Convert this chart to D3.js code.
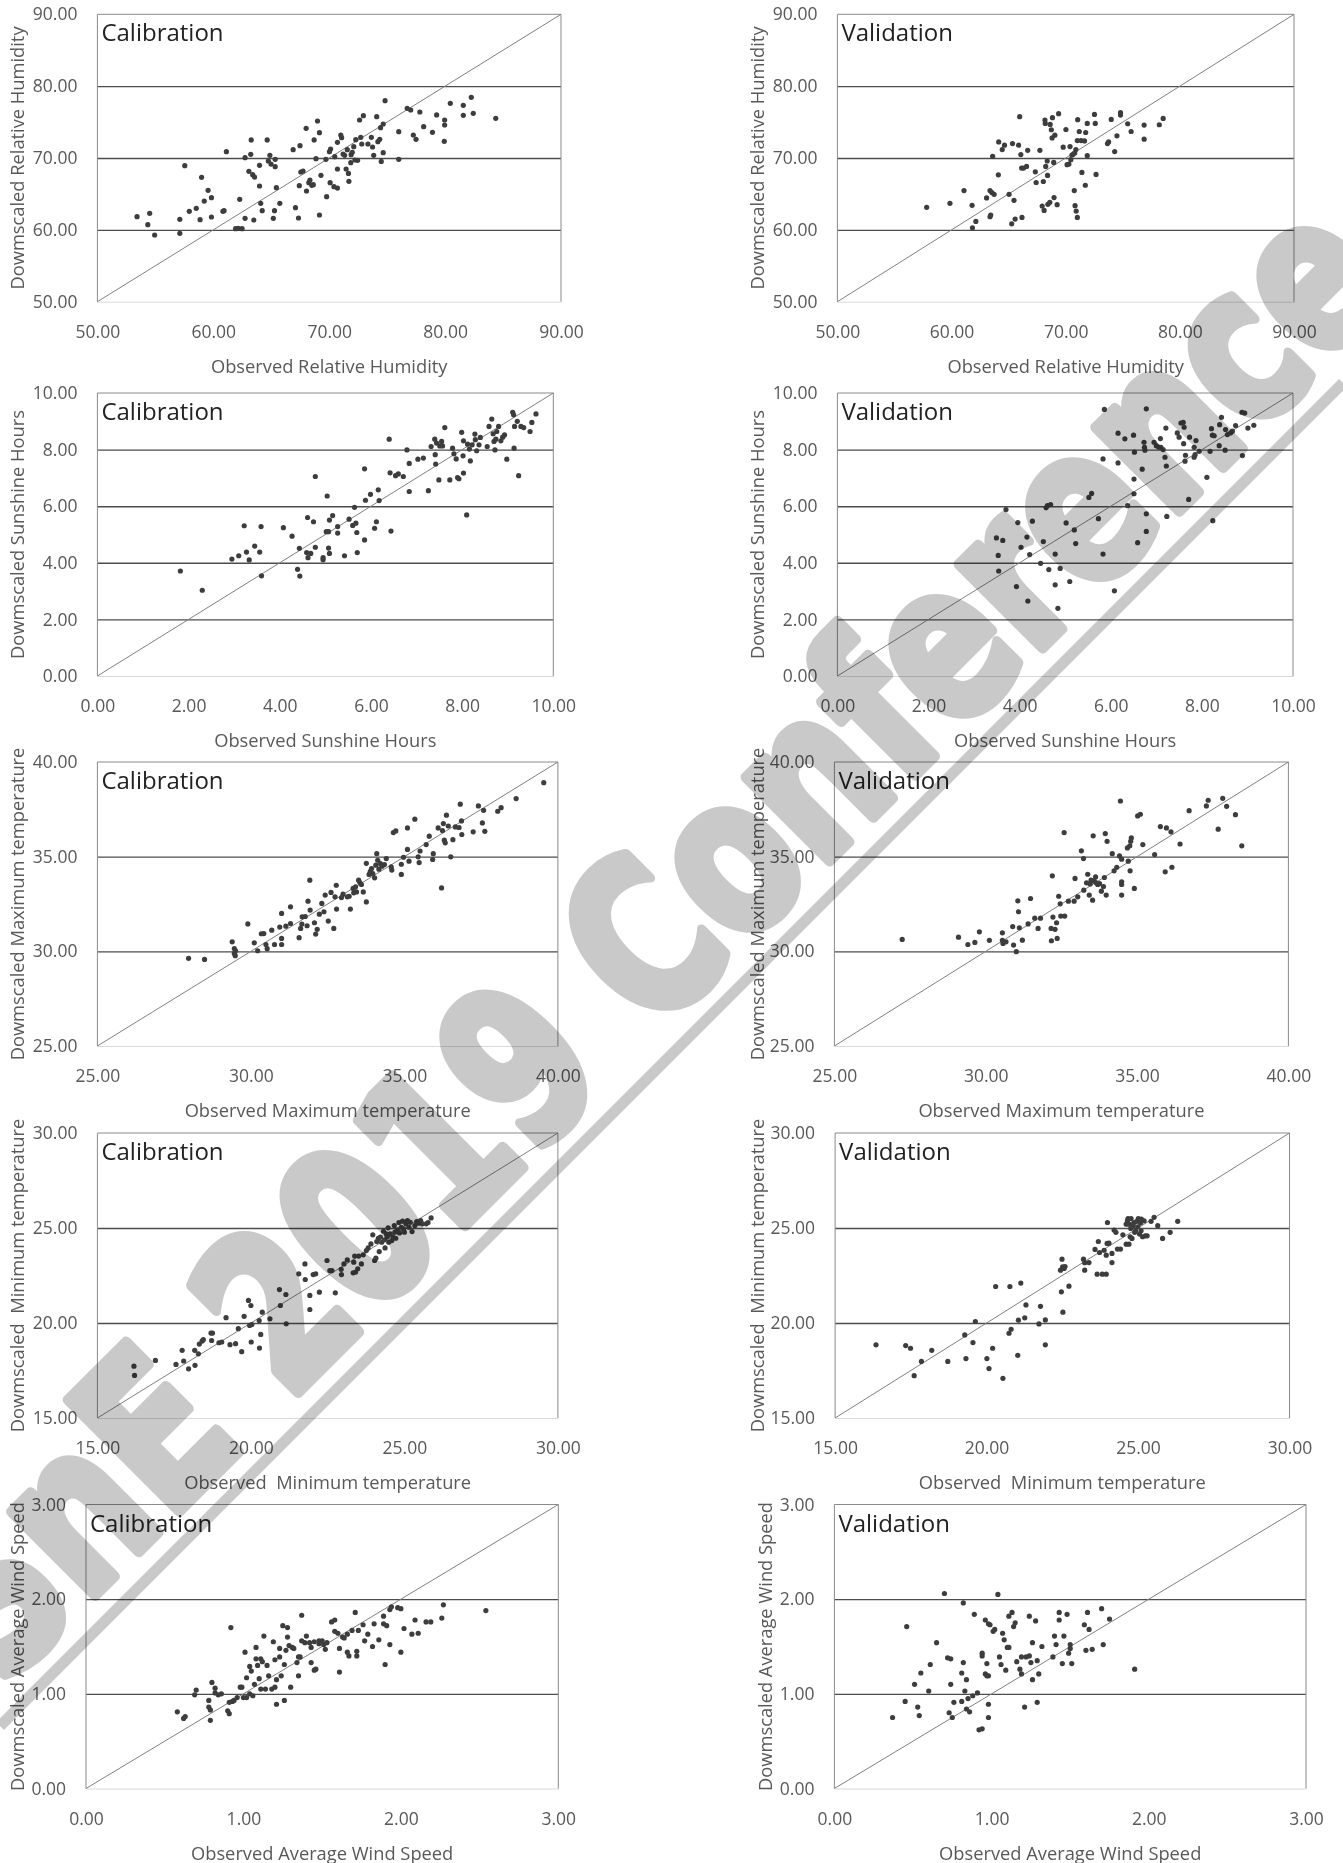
<!DOCTYPE html>
<html>
<head>
<meta charset="utf-8">
<script src="https://cdn.jsdelivr.net/npm/d3@7"></script>
<style>
  body { margin: 0; background: #fff; }
  text { font-family: "Open Sans", "Noto Sans", sans-serif; }
</style>
</head>
<body>
<svg id="chart" width="1343" height="1863"></svg>
<script>
// ---- data: [observed, downscaled] pairs ----
const rhCal = [[53.42,61.83],[54.35,60.72],[54.51,62.3],[54.94,59.28],[57.11,61.46],[57.11,59.51],[57.54,68.93],[57.93,62.58],[58.53,63.0],[58.86,61.41],[58.99,67.31],[59.22,64.0],[59.55,65.5],[59.84,64.48],[59.84,61.79],[60.83,62.58],[60.93,62.67],[61.13,70.88],[62.28,64.25],[61.92,60.16],[62.15,60.21],[62.48,60.16],[62.74,70.05],[62.74,61.6],[63.07,68.14],[63.23,70.51],[63.27,72.51],[63.4,67.68],[63.56,67.35],[63.5,61.37],[63.99,68.98],[63.99,66.1],[64.09,63.69],[64.22,62.67],[64.65,72.51],[64.75,69.58],[64.88,70.37],[64.98,69.16],[65.18,61.6],[65.28,62.67],[65.34,69.81],[65.34,68.79],[65.44,65.87],[65.74,63.69],[66.89,71.16],[67.09,63.09],[67.35,61.65],[67.42,66.15],[67.48,71.72],[67.55,68.05],[67.74,68.19],[68.01,74.13],[68.04,65.41],[68.24,66.57],[68.34,66.94],[68.5,66.19],[68.63,66.29],[68.7,72.51],[68.86,69.91],[68.99,75.15],[69.16,73.53],[69.16,62.07],[69.29,67.59],[69.78,64.62],[69.72,69.81],[70.02,70.88],[70.08,66.57],[70.12,71.25],[70.41,66.01],[70.48,70.19],[70.71,65.82],[70.71,68.47],[70.71,72.18],[71.0,73.2],[71.07,72.83],[71.2,70.56],[71.33,70.37],[71.46,68.47],[71.56,71.16],[71.66,67.86],[71.7,66.75],[71.86,69.35],[71.89,70.46],[71.99,70.79],[72.12,71.58],[72.22,69.72],[72.29,72.55],[72.45,69.67],[72.62,75.29],[72.72,72.88],[72.81,71.95],[72.95,75.89],[73.34,71.95],[73.64,72.88],[73.74,71.53],[73.84,70.37],[74.1,75.75],[74.2,72.27],[74.36,72.6],[74.43,74.22],[74.49,69.53],[74.66,70.74],[74.66,74.73],[74.82,77.98],[76.0,73.67],[76.0,69.81],[76.73,76.91],[77.03,76.68],[77.26,73.2],[77.49,72.6],[77.82,76.4],[78.15,74.36],[78.91,73.57],[79.27,75.99],[79.96,75.29],[79.96,74.59],[79.93,72.32],[80.45,77.61],[81.57,77.33],[81.57,75.94],[82.26,78.45],[82.43,76.22],[84.37,75.52]];

const rhVal = [[57.82,63.13],[59.86,63.69],[61.09,65.47],[61.8,63.41],[61.83,60.28],[62.13,61.17],[63.07,64.44],[63.37,65.47],[63.37,61.82],[63.43,62.06],[63.53,65.19],[63.6,70.23],[63.73,64.95],[64.1,67.66],[64.13,72.24],[64.44,71.17],[64.64,71.78],[65.04,64.95],[65.27,60.84],[65.34,72.01],[65.47,64.11],[65.57,61.5],[65.87,71.78],[65.97,75.75],[66.07,70.47],[66.14,68.6],[66.17,61.73],[66.31,68.6],[66.57,68.83],[66.67,71.07],[67.34,68.08],[67.41,66.59],[67.74,71.07],[67.94,63.32],[68.04,66.73],[68.11,62.71],[68.18,75.28],[68.21,74.81],[68.25,68.83],[68.38,69.58],[68.41,67.57],[68.44,63.55],[68.61,63.83],[68.64,74.67],[68.74,73.93],[68.81,72.8],[68.84,75.61],[68.95,69.39],[68.98,64.49],[69.05,73.18],[69.25,63.5],[69.38,76.17],[69.78,71.5],[70.02,73.97],[70.12,69.07],[70.28,69.16],[70.38,71.59],[70.45,69.77],[70.55,70.42],[70.65,70.51],[70.75,65.47],[70.79,70.7],[70.82,63.36],[70.89,71.17],[70.92,62.62],[71.02,61.73],[71.02,72.43],[71.05,75.33],[71.19,73.69],[71.35,72.43],[71.42,67.99],[71.65,72.38],[71.72,66.21],[71.75,73.55],[71.89,74.81],[71.89,70.33],[72.52,76.07],[72.59,74.81],[72.66,67.71],[73.66,72.01],[73.76,72.24],[73.99,75.37],[74.29,70.89],[74.49,73.08],[74.8,75.98],[74.8,76.31],[75.43,74.77],[75.73,73.69],[76.87,74.58],[76.87,72.62],[78.2,74.63],[78.54,75.51]];

const sunCal = [[1.82,3.71],[2.3,3.03],[2.95,4.13],[3.1,4.25],[3.22,5.31],[3.27,4.38],[3.33,4.1],[3.45,4.59],[3.56,4.38],[3.59,5.28],[3.6,3.54],[4.08,5.24],[4.27,4.94],[4.39,3.77],[4.43,4.51],[4.44,3.53],[4.59,4.36],[4.61,5.6],[4.62,4.18],[4.68,4.33],[4.74,5.45],[4.78,7.05],[4.78,4.55],[4.95,4.11],[4.95,4.18],[5.02,5.1],[5.04,6.36],[5.07,5.1],[5.07,4.52],[5.09,4.33],[5.09,5.51],[5.16,5.67],[5.27,5.28],[5.27,5.05],[5.42,4.25],[5.52,5.54],[5.6,5.32],[5.64,5.96],[5.67,5.4],[5.69,5.07],[5.7,4.36],[5.86,4.81],[5.86,7.32],[5.88,6.21],[5.99,6.42],[6.08,5.22],[6.12,5.45],[6.16,6.58],[6.18,6.2],[6.4,8.37],[6.42,7.18],[6.44,5.12],[6.54,7.08],[6.6,7.14],[6.71,7.05],[6.79,7.99],[6.84,7.51],[6.84,6.52],[7.03,7.66],[7.15,7.7],[7.26,6.55],[7.32,8.11],[7.4,8.37],[7.41,7.82],[7.42,7.49],[7.44,8.23],[7.49,6.93],[7.51,8.13],[7.55,8.29],[7.57,8.13],[7.62,8.78],[7.73,6.93],[7.79,8.05],[7.82,7.85],[7.87,7.67],[7.9,7.01],[7.93,6.97],[7.99,8.61],[8.02,7.78],[8.03,7.17],[8.03,8.31],[8.1,5.69],[8.12,8.19],[8.16,8.02],[8.18,7.6],[8.22,8.17],[8.28,8.55],[8.29,8.35],[8.32,7.96],[8.37,8.17],[8.4,8.43],[8.55,8.11],[8.59,8.82],[8.65,9.08],[8.68,8.56],[8.7,8.29],[8.72,7.99],[8.74,8.37],[8.76,8.64],[8.8,8.82],[8.85,8.31],[8.89,8.44],[8.93,8.52],[8.98,7.66],[9.11,9.32],[9.13,9.23],[9.14,8.05],[9.15,8.82],[9.21,9.0],[9.24,7.08],[9.29,8.82],[9.35,8.78],[9.49,8.64],[9.53,8.96],[9.62,9.26]];

const sunVal = [[3.49,4.88],[3.53,4.26],[3.54,3.71],[3.63,4.79],[3.7,5.88],[3.93,3.16],[3.96,5.42],[4.03,4.55],[4.16,4.91],[4.18,2.65],[4.22,4.29],[4.28,5.47],[4.46,3.98],[4.52,4.75],[4.58,5.94],[4.61,6.02],[4.64,3.76],[4.68,6.06],[4.78,4.31],[4.78,3.22],[4.84,2.39],[4.89,3.8],[5.02,5.41],[5.1,3.34],[5.2,5.16],[5.23,4.68],[5.52,6.31],[5.58,6.45],[5.73,5.56],[5.83,4.31],[5.83,7.67],[5.86,9.42],[6.08,3.01],[6.16,7.53],[6.16,8.58],[6.31,8.38],[6.37,6.02],[6.5,8.51],[6.51,6.96],[6.51,6.44],[6.52,7.91],[6.59,4.71],[6.69,7.31],[6.73,8.26],[6.74,8.08],[6.75,7.98],[6.78,9.44],[6.78,5.73],[6.78,5.11],[6.95,8.26],[7.0,8.14],[7.05,8.09],[7.09,8.39],[7.1,8.08],[7.15,8.0],[7.19,7.73],[7.21,8.76],[7.22,7.42],[7.23,5.64],[7.46,8.59],[7.5,8.44],[7.54,8.94],[7.59,8.96],[7.6,8.21],[7.61,8.79],[7.63,7.59],[7.64,7.8],[7.71,6.24],[7.73,8.44],[7.83,8.08],[7.83,7.73],[7.85,7.82],[7.87,8.32],[7.94,7.94],[8.11,7.02],[8.18,7.94],[8.21,8.74],[8.23,8.51],[8.24,5.49],[8.27,8.49],[8.38,8.14],[8.39,8.88],[8.43,9.14],[8.51,7.98],[8.52,8.71],[8.56,8.53],[8.63,8.59],[8.67,8.65],[8.74,8.85],[8.88,9.32],[8.89,7.79],[8.94,9.29],[9.01,8.76],[9.14,8.86]];

const tmaxCal = [[27.97,29.63],[28.49,29.57],[29.39,30.5],[29.46,30.15],[29.46,29.89],[29.5,30.03],[29.49,29.77],[29.9,31.45],[30.11,30.45],[30.22,30.03],[30.34,30.93],[30.42,30.94],[30.49,30.36],[30.53,30.14],[30.68,31.12],[30.77,30.36],[30.94,31.28],[31.0,30.36],[31.0,30.68],[31.0,32.0],[31.14,31.33],[31.29,32.35],[31.29,31.47],[31.57,30.72],[31.62,31.21],[31.66,31.44],[31.67,31.82],[31.77,31.84],[31.83,31.35],[31.86,32.65],[31.92,33.76],[31.93,32.18],[32.07,31.51],[32.11,30.91],[32.16,31.16],[32.23,31.96],[32.31,32.53],[32.38,32.09],[32.42,32.97],[32.52,31.6],[32.61,33.11],[32.7,31.21],[32.74,32.88],[32.78,33.49],[32.79,32.23],[32.95,32.84],[33.0,33.02],[33.14,32.88],[33.2,32.91],[33.24,32.23],[33.33,33.32],[33.35,33.09],[33.41,33.41],[33.44,33.14],[33.51,33.76],[33.55,33.63],[33.6,33.53],[33.66,33.14],[33.76,34.65],[33.76,32.61],[33.85,34.06],[33.89,34.23],[33.93,34.37],[33.97,34.11],[34.03,33.88],[34.07,34.55],[34.1,35.16],[34.13,34.81],[34.17,34.34],[34.22,34.64],[34.27,34.5],[34.35,34.58],[34.41,34.9],[34.57,34.46],[34.59,34.29],[34.64,36.27],[34.72,36.36],[34.9,34.06],[34.9,34.6],[34.97,34.97],[35.1,36.52],[35.1,35.38],[35.15,34.76],[35.34,36.98],[35.45,34.99],[35.48,34.69],[35.51,35.3],[35.71,35.64],[35.81,36.08],[35.92,34.85],[35.94,35.16],[36.1,36.52],[36.21,33.35],[36.24,36.38],[36.27,36.75],[36.3,35.87],[36.33,35.73],[36.37,37.19],[36.43,36.62],[36.51,34.99],[36.58,35.9],[36.66,36.57],[36.78,36.54],[36.82,37.77],[36.86,36.89],[36.87,36.17],[37.24,36.31],[37.41,37.68],[37.54,36.78],[37.58,37.45],[37.62,36.34],[38.04,37.4],[38.15,37.59],[38.64,38.07],[39.54,38.91]];

const tmaxVal = [[27.24,30.63],[29.1,30.75],[29.41,30.36],[29.64,30.47],[29.79,31.03],[30.12,30.58],[30.55,30.98],[30.55,30.58],[30.57,30.42],[30.67,30.5],[30.89,31.31],[30.92,30.33],[31.01,29.98],[31.06,32.67],[31.08,32.09],[31.11,31.24],[31.21,30.59],[31.4,31.45],[31.48,32.79],[31.62,31.75],[31.73,31.21],[31.81,31.75],[32.16,31.21],[32.17,30.56],[32.2,33.99],[32.22,31.81],[32.29,31.16],[32.34,31.51],[32.36,30.68],[32.41,32.91],[32.46,32.51],[32.48,31.86],[32.59,36.27],[32.61,31.86],[32.73,32.65],[32.92,32.65],[32.95,33.85],[33.04,32.88],[33.16,35.31],[33.23,34.9],[33.24,33.23],[33.33,33.62],[33.37,34.07],[33.42,32.97],[33.45,33.56],[33.48,33.76],[33.53,32.7],[33.55,36.1],[33.58,33.72],[33.63,33.93],[33.65,33.62],[33.7,33.53],[33.76,33.58],[33.82,33.18],[33.89,33.42],[33.92,33.9],[33.95,36.22],[33.98,32.97],[34.01,35.81],[34.18,35.16],[34.24,34.25],[34.33,34.44],[34.42,35.04],[34.45,37.94],[34.49,34.87],[34.49,33.67],[34.49,33.53],[34.49,32.97],[34.68,35.46],[34.71,34.76],[34.76,35.57],[34.77,34.25],[34.79,35.81],[34.81,35.99],[34.91,33.32],[35.02,37.15],[35.11,37.24],[35.19,35.64],[35.58,35.11],[35.77,36.59],[35.93,34.2],[35.97,36.52],[36.12,36.31],[36.15,34.44],[36.42,35.67],[36.72,37.43],[37.29,37.68],[37.35,37.98],[37.68,36.45],[37.83,38.08],[37.96,37.66],[38.25,37.22],[38.46,35.57]];

const tminCal = [[16.19,17.73],[16.21,17.24],[16.89,18.03],[17.56,17.82],[17.76,18.56],[17.81,18.0],[17.97,17.59],[18.18,17.77],[18.17,18.56],[18.29,18.38],[18.32,18.89],[18.41,19.05],[18.45,19.12],[18.7,19.47],[18.72,19.08],[18.75,19.47],[18.96,18.96],[19.05,19.0],[19.19,20.28],[19.32,18.86],[19.5,18.91],[19.59,19.7],[19.7,18.49],[19.78,20.35],[19.92,21.19],[19.96,19.87],[20.0,20.92],[20.01,19.0],[20.03,19.92],[20.27,20.13],[20.28,18.68],[20.32,19.4],[20.37,20.57],[20.62,20.22],[20.93,21.76],[20.96,20.92],[21.14,21.5],[21.15,19.96],[21.56,22.59],[21.76,23.11],[21.77,22.29],[21.92,21.45],[21.92,20.71],[22.03,22.55],[22.11,22.59],[22.23,21.62],[22.48,23.29],[22.57,22.76],[22.64,22.76],[22.75,21.59],[22.94,22.82],[22.95,22.55],[23.03,23.11],[23.14,23.32],[23.33,22.64],[23.35,23.2],[23.38,23.52],[23.41,22.68],[23.48,22.85],[23.51,23.52],[23.6,23.11],[23.66,23.59],[23.76,23.81],[23.82,23.95],[23.91,24.16],[23.97,24.64],[24.03,23.29],[24.07,23.41],[24.1,24.29],[24.15,24.45],[24.18,23.76],[24.22,24.52],[24.26,24.25],[24.32,24.83],[24.35,24.38],[24.37,23.95],[24.41,24.69],[24.44,24.52],[24.47,25.01],[24.49,24.25],[24.54,24.69],[24.59,24.34],[24.63,24.52],[24.67,25.13],[24.69,24.78],[24.72,24.46],[24.77,24.9],[24.82,25.29],[24.84,24.74],[24.9,25.04],[24.94,25.36],[24.97,24.95],[25.0,24.78],[25.05,25.22],[25.1,25.39],[25.15,25.04],[25.19,25.3],[25.25,24.81],[25.34,25.13],[25.4,25.34],[25.46,25.25],[25.53,25.39],[25.59,25.22],[25.71,25.22],[25.77,25.29],[25.87,25.53]];

const tminVal = [[16.35,18.85],[17.33,18.81],[17.49,18.67],[17.61,17.23],[17.85,17.98],[18.19,18.56],[18.72,17.98],[19.28,19.37],[19.32,18.13],[19.55,18.97],[19.63,20.08],[20.01,18.13],[20.08,17.6],[20.2,18.67],[20.3,21.92],[20.54,17.09],[20.74,19.46],[20.77,21.92],[20.81,19.67],[21.03,18.3],[21.05,20.15],[21.13,22.1],[21.26,20.27],[21.3,20.95],[21.73,19.95],[21.78,20.88],[21.94,20.16],[21.94,18.85],[22.44,22.78],[22.47,21.64],[22.49,23.36],[22.51,22.96],[22.52,20.57],[22.56,22.87],[22.59,22.97],[22.72,21.94],[23.2,23.36],[23.24,22.78],[23.24,23.17],[23.38,23.18],[23.58,23.87],[23.65,22.57],[23.69,24.29],[23.73,23.71],[23.82,22.57],[23.88,23.83],[23.95,22.57],[23.95,23.57],[23.98,24.19],[23.99,25.29],[24.04,24.2],[24.14,23.66],[24.14,23.18],[24.21,24.89],[24.27,24.77],[24.32,23.89],[24.42,23.89],[24.5,24.64],[24.61,25.2],[24.61,24.15],[24.65,25.38],[24.67,25.5],[24.7,24.15],[24.71,25.2],[24.74,24.54],[24.76,24.98],[24.77,25.5],[24.8,24.45],[24.84,25.12],[24.86,25.29],[24.89,24.77],[24.92,24.85],[24.96,25.35],[24.99,25.06],[25.01,25.5],[25.05,24.68],[25.08,25.26],[25.1,24.85],[25.11,25.47],[25.15,24.54],[25.2,25.38],[25.24,24.59],[25.3,24.59],[25.43,25.35],[25.53,25.56],[25.65,25.12],[25.81,24.45],[26.06,24.77],[26.31,25.35]];

const windCal = [[0.58,0.81],[0.62,0.74],[0.63,0.76],[0.69,0.99],[0.7,1.04],[0.78,0.93],[0.78,0.86],[0.79,0.72],[0.79,0.83],[0.8,1.12],[0.82,1.01],[0.82,1.06],[0.84,0.99],[0.86,1.0],[0.9,0.82],[0.91,0.91],[0.91,0.79],[0.92,1.7],[0.93,0.92],[0.94,0.93],[0.96,0.96],[0.98,1.07],[0.99,1.07],[1.0,0.96],[1.01,1.44],[1.02,1.17],[1.02,0.96],[1.04,1.29],[1.04,1.0],[1.05,1.24],[1.06,0.98],[1.07,1.1],[1.08,1.49],[1.08,1.37],[1.09,1.3],[1.1,1.16],[1.11,1.37],[1.11,1.05],[1.12,1.34],[1.13,1.61],[1.14,1.05],[1.15,1.3],[1.16,1.19],[1.18,1.05],[1.19,1.55],[1.2,1.07],[1.2,1.36],[1.21,0.89],[1.21,1.15],[1.23,1.39],[1.23,1.48],[1.24,1.19],[1.25,1.72],[1.26,1.31],[1.26,0.93],[1.27,1.46],[1.28,1.7],[1.28,1.6],[1.29,1.51],[1.3,1.07],[1.31,1.49],[1.32,1.48],[1.34,1.33],[1.35,1.39],[1.35,1.19],[1.36,1.39],[1.37,1.83],[1.37,1.56],[1.39,1.54],[1.4,1.61],[1.42,1.54],[1.43,1.33],[1.43,1.49],[1.45,1.25],[1.45,1.55],[1.46,1.26],[1.48,1.56],[1.48,1.53],[1.5,1.56],[1.51,1.52],[1.52,1.47],[1.53,1.54],[1.56,1.76],[1.58,1.66],[1.58,1.78],[1.6,1.64],[1.61,1.23],[1.61,1.48],[1.63,1.6],[1.64,1.59],[1.66,1.63],[1.66,1.44],[1.67,1.4],[1.69,1.67],[1.71,1.86],[1.72,1.4],[1.72,1.45],[1.73,1.67],[1.76,1.73],[1.77,1.56],[1.79,1.63],[1.82,1.5],[1.83,1.74],[1.86,1.57],[1.89,1.82],[1.89,1.74],[1.9,1.31],[1.91,1.72],[1.93,1.89],[1.93,1.52],[1.94,1.92],[1.98,1.91],[2.0,1.9],[2.0,1.44],[2.02,1.69],[2.07,1.63],[2.09,1.78],[2.11,1.64],[2.16,1.76],[2.19,1.76],[2.26,1.8],[2.27,1.94],[2.54,1.88]];

const windVal = [[0.37,0.75],[0.45,0.92],[0.46,1.71],[0.51,1.1],[0.53,0.86],[0.54,0.77],[0.55,1.22],[0.6,1.03],[0.61,1.31],[0.65,1.54],[0.7,2.06],[0.72,1.38],[0.73,0.8],[0.74,1.1],[0.74,1.37],[0.75,0.75],[0.76,0.91],[0.81,0.92],[0.81,1.22],[0.82,1.96],[0.82,1.33],[0.83,1.03],[0.84,0.84],[0.84,1.15],[0.85,0.95],[0.86,0.81],[0.88,0.98],[0.89,1.84],[0.91,1.01],[0.92,0.62],[0.94,0.63],[0.94,1.4],[0.94,1.43],[0.96,1.78],[0.96,1.21],[0.97,1.32],[0.97,1.19],[0.98,1.74],[0.98,1.19],[0.98,0.89],[0.98,0.75],[0.99,1.73],[1.01,1.66],[1.02,1.68],[1.04,2.05],[1.05,1.39],[1.06,1.31],[1.07,1.64],[1.08,1.57],[1.09,1.25],[1.1,1.49],[1.11,1.49],[1.11,1.82],[1.13,1.86],[1.14,1.71],[1.15,1.75],[1.16,1.34],[1.18,1.26],[1.19,1.39],[1.19,1.21],[1.21,0.86],[1.22,1.39],[1.24,1.4],[1.24,1.82],[1.25,1.33],[1.26,1.15],[1.26,1.54],[1.28,1.77],[1.29,1.35],[1.29,0.91],[1.3,1.21],[1.32,1.5],[1.39,1.39],[1.4,1.61],[1.41,1.52],[1.43,1.86],[1.43,1.78],[1.45,1.32],[1.46,1.61],[1.48,1.84],[1.49,1.43],[1.5,1.48],[1.5,1.52],[1.51,1.32],[1.59,1.73],[1.6,1.46],[1.61,1.86],[1.62,1.68],[1.64,1.47],[1.7,1.9],[1.71,1.52],[1.75,1.79],[1.91,1.26]];

// ---- axes: domains, ticks and titles per variable ----
const domains = [[50, 90], [0, 10], [25, 40], [15, 30], [0, 3]];
const tickSteps = [10, 2, 5, 5, 1];
const xTitles = ["Observed Relative Humidity", "Observed Sunshine Hours", "Observed Maximum temperature",
                 "Observed  Minimum temperature", "Observed Average Wind Speed"];
const yTitles = ["Dowmscaled Relative Humidity", "Dowmscaled Sunshine Hours", "Dowmscaled Maximum temperature",
                 "Dowmscaled  Minimum temperature", "Dowmscaled Average Wind Speed"];
const panelLabels = ["Calibration", "Validation"];
const series = [[rhCal, rhVal], [sunCal, sunVal], [tmaxCal, tmaxVal], [tminCal, tminVal], [windCal, windVal]];

// layout (pixels) of each plot area
const rowY = [[14.3, 301.7], [393, 676], [762, 1046], [1133, 1418], [1504.5, 1788.5]];
const colX = [
  [[97.4, 561], [97.4, 553.3], [97.4, 557.9], [97.4, 557.9], [86, 558.3]],
  [[837.4, 1294], [837.4, 1293], [834.4, 1288.4], [835.1, 1289.5], [834.4, 1306]]
];
const yTitleX = [[18, 18, 18, 18, 18], [758, 758, 758, 758, 766]];

const svg = d3.select("#chart");
svg.append("rect").attr("width", 1343).attr("height", 1863).attr("fill", "#fff");

const fmt = d3.format(".2f");

function drawPanel(row, col) {
  const [x0, x1] = colX[col][row];
  const [y0, y1] = rowY[row];
  const dom = domains[row];
  const step = tickSteps[row];
  const ticks = d3.range(dom[0], dom[1] + step / 2, step);
  const data = series[row][col];

  const x = d3.scaleLinear().domain(dom).range([x0, x1]);
  const y = d3.scaleLinear().domain(dom).range([y1, y0]);
  const w = x1 - x0;

  const g = svg.append("g").attr("class", "panel");

  // y axis with gridlines
  const yAxis = g.append("g")
    .attr("transform", `translate(${x0},0)`)
    .call(d3.axisLeft(y).tickValues(ticks).tickFormat(fmt).tickSize(-w).tickPadding(20));
  yAxis.select(".domain").remove();
  yAxis.selectAll(".tick line")
    .attr("stroke", "#4d4d4d")
    .attr("stroke-width", 1.4)
    .attr("opacity", d => (d === dom[0] || d === dom[1]) ? 0 : 1);
  yAxis.selectAll(".tick text")
    .attr("fill", "#595959").style("font-size", "17.5px");

  // x axis
  const xAxis = g.append("g")
    .attr("transform", `translate(0,${y1})`)
    .call(d3.axisBottom(x).tickValues(ticks).tickFormat(fmt).tickSize(0).tickPadding(24));
  xAxis.select(".domain").attr("stroke", "#d9d9d9");
  xAxis.selectAll(".tick text")
    .attr("fill", "#595959").style("font-size", "17.5px");

  // plot border (left, top, right)
  g.append("path")
    .attr("d", `M${x0},${y1}V${y0}H${x1}V${y1}`)
    .attr("fill", "none").attr("stroke", "#8a8a8a").attr("stroke-width", 1);

  // 1:1 line
  g.append("line")
    .attr("x1", x(dom[0])).attr("y1", y(dom[0]))
    .attr("x2", x(dom[1])).attr("y2", y(dom[1]))
    .attr("stroke", "#808080").attr("stroke-width", 1);

  // points
  g.append("g").selectAll("circle")
    .data(data)
    .join("circle")
    .attr("cx", d => x(d[0]))
    .attr("cy", d => y(d[1]))
    .attr("r", 2.6)
    .attr("fill", "#3d3d3d");

  // panel label
  g.append("text")
    .attr("x", x0 + 4).attr("y", y0 + 27)
    .attr("fill", "#222")
    .style("font-size", "24px")
    .text(panelLabels[col]);

  // axis titles
  g.append("text")
    .attr("x", (x0 + x1) / 2).attr("y", y1 + 71)
    .attr("text-anchor", "middle")
    .attr("fill", "#595959")
    .style("font-size", "18.3px")
    .style("white-space", "pre")
    .text(xTitles[row]);

  g.append("text")
    .attr("transform", `translate(${yTitleX[col][row] + 6},${(y0 + y1) / 2}) rotate(-90)`)
    .attr("text-anchor", "middle")
    .attr("fill", "#595959")
    .style("font-size", "18.3px")
    .style("white-space", "pre")
    .text(yTitles[row]);
}

for (let r = 0; r < 5; r++) {
  drawPanel(r, 0);
  drawPanel(r, 1);
}

// watermark, laid over everything with multiply so marks show through
const wm = svg.append("g").style("mix-blend-mode", "multiply");
wm.append("line")
  .attr("x1", 0).attr("y1", 1726)
  .attr("x2", 1343).attr("y2", 383)
  .attr("stroke", "#c9c9c9").attr("stroke-width", 11);
wm.append("text")
  .attr("transform", "translate(1400,290) rotate(-45) scale(1,1.3)")
  .attr("text-anchor", "end")
  .attr("fill", "#c9c9c9")
  .attr("stroke", "#c9c9c9")
  .attr("stroke-width", 9)
  .attr("stroke-linejoin", "round")
  .style("font-family", "'DejaVu Sans', sans-serif")
  .style("font-weight", "bold")
  .style("font-size", "165px")
  .text("SnE 2019 Conference");
</script>
</body>
</html>
